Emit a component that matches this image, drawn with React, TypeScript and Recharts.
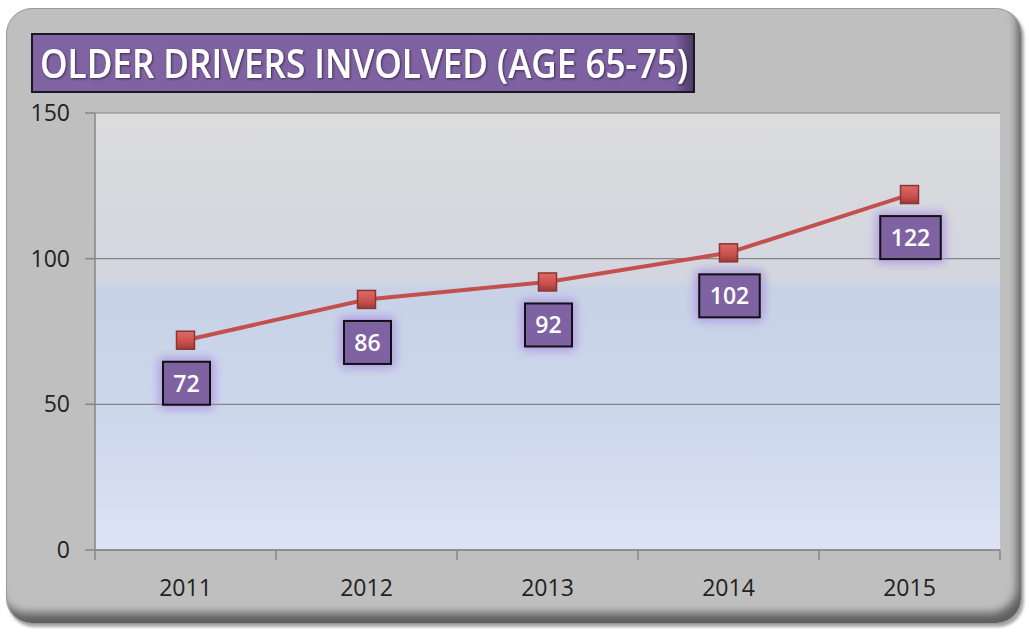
import React from 'react';
import { LineChart, Line, XAxis, YAxis, CartesianGrid, LabelList } from 'recharts';

const years = ['2011', '2012', '2013', '2014', '2015'];
const drivers = [72, 86, 92, 102, 122];
const yTicks = [0, 50, 100, 150];
const title = 'OLDER DRIVERS INVOLVED (AGE 65-75)';

const data = years.map((y, i) => ({ year: y, value: drivers[i] }));

const FONT = '"Open Sans", "DejaVu Sans", sans-serif';
const HALF_BAND = 90.5;

const Marker = (props: any) => {
  const { cx, cy } = props;
  if (cx == null || cy == null) return null;
  return (
    <rect x={cx - 9} y={cy - 9} width={18} height={18} fill="url(#mkGrad)" stroke="#8a3533" strokeWidth={1.5} />
  );
};

const ValueLabel = (props: any) => {
  const { x, y, value } = props;
  if (x == null || y == null) return null;
  const s = String(value);
  const w = s.length * 13.5 + 20;
  const h = 43;
  const cx = x + 1;
  const cy = y + 43;
  return (
    <g>
      <rect x={cx - w / 2 - 5} y={cy - h / 2 - 5} width={w + 10} height={h + 10} rx={7} fill="#a98ee0" opacity={0.7} filter="url(#glow)" />
      <rect x={cx - w / 2} y={cy - h / 2} width={w} height={h} fill="#7f62a1" stroke="#111" strokeWidth={2} />
      <text x={cx} y={cy + 8.5} textAnchor="middle" fill="#fff" fontFamily={FONT} fontWeight={600} fontSize={23}>
        {s}
      </text>
    </g>
  );
};

const XTick = (props: any) => {
  const { x, y, payload, index } = props;
  const half = payload && payload.offset ? payload.offset : HALF_BAND;
  const last = index === years.length - 1;
  return (
    <g>
      <line x1={x - half} x2={x - half} y1={y - 10} y2={y} stroke="#868686" strokeWidth={1.5} />
      {last && <line x1={x + half} x2={x + half} y1={y - 10} y2={y} stroke="#868686" strokeWidth={1.5} />}
      <text x={x} y={y + 36} textAnchor="middle" fill="#222" fontFamily={FONT} fontSize={23}>
        {payload.value}
      </text>
    </g>
  );
};

export default function App() {
  return (
    <div style={{ position: 'absolute', left: 0, top: 0, width: 1029, height: 641, background: '#fff', overflow: 'hidden' }}>
      <div
        style={{
          position: 'absolute',
          left: 6,
          top: 8,
          width: 1014,
          height: 614,
          borderRadius: 26,
          background: '#bfbfbf',
          border: '1px solid #9a9a9a',
          boxShadow: 'inset -6px -12px 9px -2px rgba(0,0,0,0.5), 2px 3px 3px rgba(0,0,0,0.35)',
        }}
      />
      <div style={{ position: 'absolute', left: 0, top: 0 }}>
        <LineChart width={1029} height={641} data={data} margin={{ top: 113, right: 29, bottom: 0, left: 0 }}>
          <defs>
            <linearGradient id="plotbg" x1="0" y1="0" x2="0" y2="1">
              <stop offset="0" stopColor="#dcdcdd" />
              <stop offset="0.38" stopColor="#d3d6df" />
              <stop offset="0.40" stopColor="#c8d2e6" />
              <stop offset="0.7" stopColor="#cdd7ec" />
              <stop offset="0.85" stopColor="#d4ddf0" />
              <stop offset="1" stopColor="#dce4f4" />
            </linearGradient>
            <linearGradient id="mkGrad" x1="0" y1="0" x2="0" y2="1">
              <stop offset="0" stopColor="#e06a66" />
              <stop offset="0.6" stopColor="#c9504c" />
              <stop offset="1" stopColor="#9c3a38" />
            </linearGradient>
            <filter id="glow" x="-50%" y="-50%" width="200%" height="200%">
              <feGaussianBlur stdDeviation="4" />
            </filter>
          </defs>
          <CartesianGrid vertical={false} stroke="#858585" strokeWidth={1.2} fill="url(#plotbg)" fillOpacity={1} />
          <XAxis
            dataKey="year"
            height={91}
            padding={{ left: HALF_BAND, right: HALF_BAND }}
            axisLine={{ stroke: '#868686', strokeWidth: 1.5 }}
            tickLine={false}
            tickSize={10}
            tickMargin={0}
            tick={<XTick />}
            interval={0}
          />
          <YAxis
            width={95}
            domain={[0, 150]}
            ticks={yTicks}
            axisLine={{ stroke: '#868686', strokeWidth: 1.5 }}
            tickLine={{ stroke: '#868686', strokeWidth: 1.5 }}
            tickSize={10}
            tickMargin={15}
            tick={{ fill: '#222', fontSize: 23, fontFamily: FONT }}
          />
          <Line
            type="linear"
            dataKey="value"
            stroke="#c4504d"
            strokeWidth={4}
            dot={<Marker />}
            activeDot={false}
            isAnimationActive={false}
          >
            <LabelList dataKey="value" content={<ValueLabel />} />
          </Line>
        </LineChart>
      </div>
      <svg style={{ position: 'absolute', left: 0, top: 0 }} width={1029} height={120}>
        <defs>
          <linearGradient id="titleGrad" x1="0" y1="0" x2="1" y2="0">
            <stop offset="0" stopColor="#8064a2" />
            <stop offset="0.97" stopColor="#7d61a0" />
            <stop offset="1" stopColor="#4a3a60" />
          </linearGradient>
          <filter id="tshadow" x="-5%" y="-20%" width="110%" height="140%">
            <feDropShadow dx="1" dy="1" stdDeviation="1" floodColor="#2a1f3a" floodOpacity="0.8" />
          </filter>
        </defs>
        <rect x={32} y={34} width={662} height={58} fill="url(#titleGrad)" stroke="#1b1626" strokeWidth={2} />
        <text
          x={40}
          y={78}
          fill="#fff"
          fontFamily={FONT}
          fontWeight={600}
          fontSize={40}
          textLength={648}
          lengthAdjust="spacingAndGlyphs"
          filter="url(#tshadow)"
        >
          {title}
        </text>
      </svg>
    </div>
  );
}
